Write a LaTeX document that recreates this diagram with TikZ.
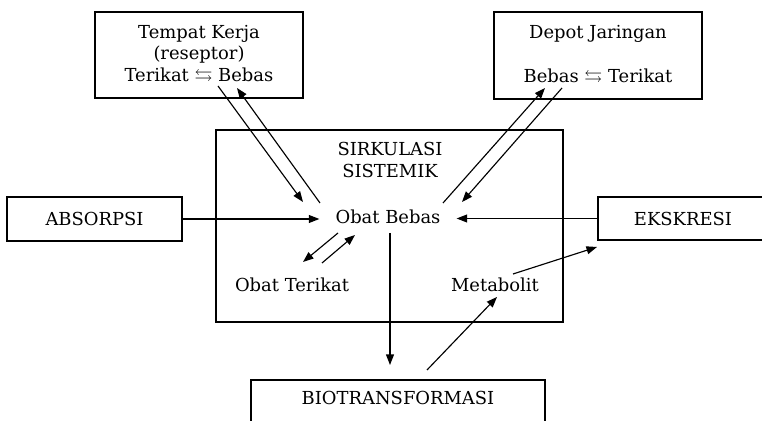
\documentclass[tikz,border=0pt]{standalone}
\usepackage{amssymb}
\usepackage{fontspec}
\setmainfont{DejaVu Serif}
\usetikzlibrary{arrows.meta,positioning,calc}

\begin{document}
\begin{tikzpicture}[x=0.02cm,y=-0.02cm,
  every node/.style={font=\fontsize{10.2}{12.5}\selectfont,align=center},
  kotak/.style={draw,line width=0.8pt},
  panah/.style={-{Triangle[length=6pt,width=4.5pt]},line width=0.65pt}]
\clip (0,0) rectangle (762,421);
% kotak-kotak
\node[kotak,minimum width=4.16cm,minimum height=1.72cm] (kerja) at (199,55)
  {Tempat Kerja\\(reseptor)\\Terikat $\leftrightarrows$ Bebas};
\node[kotak,minimum width=4.16cm,minimum height=1.74cm] (depot) at (598,55.5)
  {Depot Jaringan\\[13pt]Bebas $\leftrightarrows$ Terikat};
\node[kotak,minimum width=6.94cm,minimum height=3.84cm] (sirkulasi) at (389.5,226) {};
\node[kotak,minimum width=3.5cm,minimum height=0.88cm] (absorpsi) at (94.5,219) {ABSORPSI};
\node[kotak,minimum width=3.4cm,minimum height=0.86cm] (ekskresi) at (683,218.5) {EKSKRESI};
\node[kotak,minimum width=5.88cm,minimum height=1.2cm] (bio) at (398,410) {};
\node[below=3pt of bio.north] (biotxt) {BIOTRANSFORMASI};
% isi sirkulasi
\node (judul) at (390,160) {SIRKULASI\\SISTEMIK};
\node[inner xsep=9pt] (bebas) at (388,217) {Obat Bebas};
\node (terikat) at (292,285) {Obat Terikat};
\node (metabolit) at (495,285) {Metabolit};
% ujung panah
\coordinate (k1) at (218,86);  \coordinate (k2) at (303,202);
\coordinate (k3) at (320,203); \coordinate (k4) at (237,88);
\coordinate (d1) at (443,203); \coordinate (d2) at (545,88);
\coordinate (d3) at (562,88);  \coordinate (d4) at (462,202);
\coordinate (t1) at (338,233); \coordinate (t2) at (303,262);
\coordinate (t3) at (322,263); \coordinate (t4) at (355,235);
\coordinate (b1) at (390,233); \coordinate (b2) at (390,365);
\coordinate (m1) at (427,370); \coordinate (m2) at (497,297);
\coordinate (m3) at (513,274); \coordinate (m4) at (597,247);

\draw[panah] (absorpsi.east) -- (absorpsi.east -| bebas.west);
\draw[panah] (ekskresi.west) -- (ekskresi.west -| bebas.east);
\draw[panah] (k1) -- (k2);
\draw[panah] (k3) -- (k4);
\draw[panah] (d1) -- (d2);
\draw[panah] (d3) -- (d4);
\draw[panah] (t1) -- (t2);
\draw[panah] (t3) -- (t4);
\draw[panah] (b1) -- (b2);
\draw[panah] (m1) -- (m2);
\draw[panah] (m3) -- (m4);
\end{tikzpicture}
\end{document}
